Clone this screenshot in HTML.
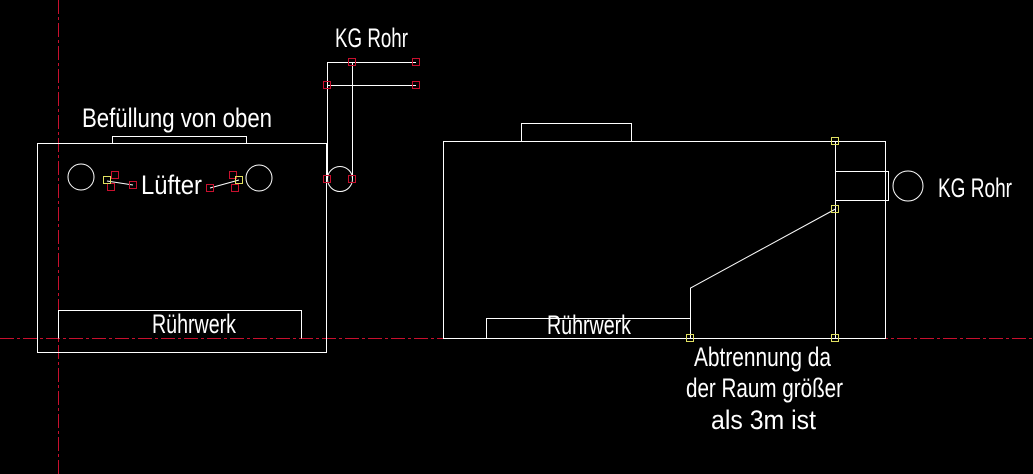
<!DOCTYPE html>
<html><head><meta charset="utf-8"><style>
html,body{margin:0;padding:0;background:#000;}
svg{display:block}
text{font-family:"Liberation Sans Narrow","Liberation Sans",sans-serif;fill:#fff;font-size:27px;}
</style></head><body>
<svg width="1033" height="474" viewBox="0 0 1033 474">
<g stroke="#c8102e" stroke-width="1" stroke-dasharray="14,3,3,3" fill="none">
<line x1="0" y1="338.5" x2="1033" y2="338.5"/>
<line x1="58.5" y1="0" x2="58.5" y2="474"/>
</g>
<g stroke="#fff" stroke-width="1" fill="none">
<rect x="37.5" y="143.5" width="289" height="209"/>
<polyline points="112.5,143.5 112.5,136.5 246.5,136.5 246.5,143.5"/>
<polyline points="58.5,338.5 58.5,310.5 301.5,310.5 301.5,338.5" />
<circle cx="81" cy="177" r="13"/>
<circle cx="259" cy="178" r="13"/>
<circle cx="340" cy="179" r="12.5"/>
<polyline points="327.5,179 327.5,62.5 416,62.5"/>
<line x1="327.5" y1="85.5" x2="416" y2="85.5"/>
<line x1="352.5" y1="62.5" x2="352.5" y2="179"/>
<line x1="107" y1="181" x2="133" y2="185"/>
<line x1="210" y1="188" x2="239" y2="180"/>
<rect x="443.5" y="141.5" width="442" height="197"/>
<polyline points="521.5,141.5 521.5,123.5 631.5,123.5 631.5,141.5"/>
<line x1="835.5" y1="141.5" x2="835.5" y2="338.5"/>
<rect x="835.5" y="171.5" width="53" height="29"/>
<circle cx="908" cy="186" r="15"/>
<polyline points="835.5,209 690.5,288 690.5,338.5"/>
<polyline points="486.5,338.5 486.5,318.5 690.5,318.5"/>
</g>
<g stroke="#c8102e" stroke-width="1" fill="none">
<rect x="348.5" y="58.5" width="7" height="7"/>
<rect x="412.5" y="58.5" width="7" height="7"/>
<rect x="323.5" y="81.5" width="7" height="7"/>
<rect x="412.5" y="81.5" width="7" height="7"/>
<rect x="323.5" y="175.5" width="7" height="7"/>
<rect x="348.5" y="175.5" width="7" height="7"/>
<rect x="111.5" y="171.5" width="7" height="7"/>
<rect x="107.5" y="183.5" width="7" height="7"/>
<rect x="129.5" y="181.5" width="7" height="7"/>
<rect x="206.5" y="184.5" width="7" height="7"/>
<rect x="229.5" y="171.5" width="7" height="7"/>
<rect x="231.5" y="184.5" width="7" height="7"/>
</g>
<g stroke="#e0e060" stroke-width="1" fill="none">
<rect x="103.5" y="176.5" width="7" height="7"/>
<rect x="235.5" y="176.5" width="7" height="7"/>
<rect x="831.5" y="137.5" width="7" height="7"/>
<rect x="831.5" y="205.5" width="7" height="7"/>
<rect x="686.5" y="334.5" width="7" height="7"/>
<rect x="831.5" y="334.5" width="7" height="7"/>
</g>
<text x="335" y="47" textLength="73" lengthAdjust="spacingAndGlyphs">KG Rohr</text>
<text x="82" y="127" textLength="190" lengthAdjust="spacingAndGlyphs">Befüllung von oben</text>
<text x="141" y="194" textLength="61" lengthAdjust="spacingAndGlyphs">Lüfter</text>
<text x="152" y="333" textLength="84" lengthAdjust="spacingAndGlyphs">Rührwerk</text>
<text x="547" y="334" textLength="84" lengthAdjust="spacingAndGlyphs">Rührwerk</text>
<text x="938" y="197" textLength="74" lengthAdjust="spacingAndGlyphs">KG Rohr</text>
<text x="694" y="366" textLength="137" lengthAdjust="spacingAndGlyphs">Abtrennung da</text>
<text x="686" y="397" textLength="157" lengthAdjust="spacingAndGlyphs">der Raum größer</text>
<text x="711" y="429" textLength="105" lengthAdjust="spacingAndGlyphs">als 3m ist</text>
</svg>
</body></html>
